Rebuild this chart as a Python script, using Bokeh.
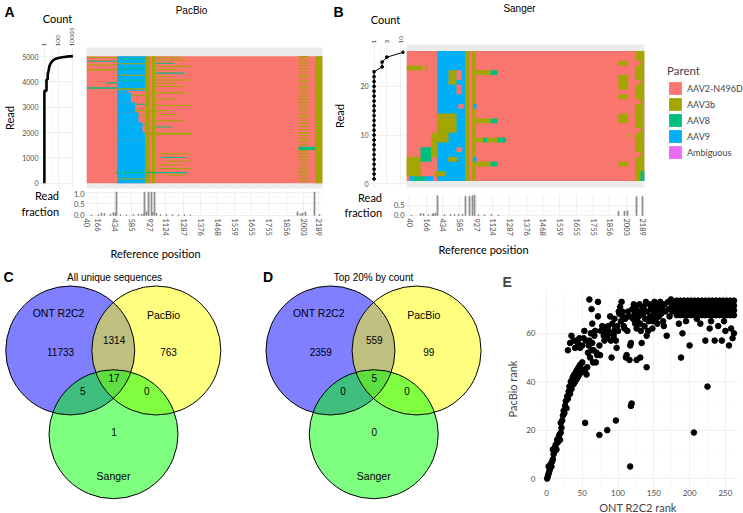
import math
from bokeh.plotting import figure
from bokeh.models import (Range1d, FixedTicker, ColumnDataSource, Legend, LegendItem,
                          NumeralTickFormatter, CategoricalColorMapper, Title)
from bokeh.layouts import row, column
from bokeh.embed import file_html
from bokeh.resources import INLINE
from bokeh.core.properties import value

# ---------------------------------------------------------------- data
parents = ["AAV2-N496D", "AAV3b", "AAV8", "AAV9", "Ambiguous"]
parent_colors = ["#F8766D", "#A3A500", "#00BF7D", "#00B0F6", "#E76BF3"]
parent_code = {"N": "AAV2-N496D", "3": "AAV3b", "8": "AAV8", "9": "AAV9", "A": "Ambiguous"}

ref_tick_labels = ["40", "166", "434", "585", "927", "1124", "1287", "1376",
                   "1468", "1559", "1655", "1755", "1856", "2003", "2189"]
a_tick_idx = [0, 11, 28, 45, 63, 79, 97, 114, 131, 148, 165, 182, 200, 217, 232]
b_tick_idx = [3, 20, 36, 53, 70, 86, 103, 120, 136, 153, 170, 187, 203, 220, 236]

# read counts (A: PacBio, B: Sanger)
a_count_read = [0, 3650, 3650, 4100, 4100, 4300, 4450, 4600, 4710, 4800, 4870, 4920, 4950, 4980, 5000, 5020]
a_count_n = [1, 1, 2, 2, 3, 3, 4, 5, 7, 11, 21, 45, 100, 350, 1400, 12000]
b_count_read = [1, 2, 3, 4, 5, 6, 7, 8, 9, 10, 11, 12, 13, 14, 15, 16, 17, 18, 19, 20,
                21, 22, 23, 24, 25, 26, 27]
b_count_n = [1, 1, 1, 1, 1, 1, 1, 1, 1, 1, 1, 1, 1, 1, 1, 1, 1, 1, 1, 1,
             1, 1, 1, 2, 2, 3, 12]

# heatmap segments (variable-site index from, to, read from, to, parent)
a_segments = [
    (0, 236, 0, 5020, "N"),
    (30.7, 59, 3650, 5020, "9"), (30.7, 41, 3583, 3650, "9"), (30.7, 44.5, 3194, 3583, "9"),
    (30.7, 48.5, 2804, 3194, "9"), (30.7, 52, 2415, 2804, "9"), (30.7, 56, 2025, 2415, "9"),
    (30.7, 58.5, 1700, 2025, "9"), (30.7, 59, 0, 1700, "9"),
    (59, 63.5, 0, 5020, "3"), (65.5, 68.5, 0, 5020, "3"), (229, 236, 0, 5020, "3"),
    (0, 30.7, 3730, 3790, "8"), (30.7, 59, 3690, 3750, "3"), (20, 30.7, 3940, 3990, "8"),
    (0, 30.7, 4950, 4990, "3"), (0, 30.7, 4800, 4840, "8"), (0, 30.7, 4650, 4690, "3"),
    (0, 30.7, 4450, 4500, "3"),
    (30.7, 59, 4900, 4940, "8"), (30.7, 59, 4700, 4740, "3"), (30.7, 59, 4500, 4540, "8"),
    (30.7, 59, 4250, 4290, "3"), (30.7, 59, 4050, 4090, "8"),
    (29, 101, 400, 450, "8"), (30.7, 59, 150, 190, "3"),
    (45, 59, 3450, 3490, "3"), (48, 59, 3100, 3140, "8"), (48, 80, 2845, 2897, "3"),
    (52, 59, 2650, 2690, "3"), (56, 59, 2300, 2340, "8"), (58, 104.7, 1920, 2000, "3"),
    (58, 59, 2150, 2190, "3"),
    (69, 95, 4960, 5000, "3"), (69, 100, 4850, 4890, "3"), (69, 88, 4720, 4760, "8"),
    (69, 104, 4600, 4640, "3"), (69, 92, 4470, 4510, "3"), (69, 98, 4330, 4370, "8"),
    (69, 85, 4200, 4240, "3"), (69, 104, 4060, 4100, "3"), (69, 90, 3930, 3970, "3"),
    (69, 96, 3800, 3840, "3"), (69, 100, 3560, 3600, "3"), (69, 88, 3300, 3340, "3"),
    (69, 104, 3050, 3090, "3"), (69, 92, 2700, 2740, "3"), (69, 98, 2450, 2490, "3"),
    (69, 85, 2200, 2240, "8"),
    (72, 104, 1150, 1190, "3"), (75, 100, 1000, 1040, "8"), (78, 104, 850, 890, "3"),
    (70, 95, 700, 740, "3"), (72, 104, 560, 600, "3"), (80, 98, 300, 340, "3"),
]
a_band_reads = [4980, 4860, 4740, 4620, 4500, 4380, 4260, 4140, 4020, 3900, 3780, 3660,
                3540, 3420, 3300, 3180, 3060, 2940, 2820, 2700, 2580, 2460, 2340, 2220,
                2100, 1980, 1860, 1740, 1620, 1500, 1260, 1140, 1020, 900, 780, 660,
                540, 420, 300, 180, 60]
a_late_segments = [(212, 229, 1310, 1440, "8")]

b_segments = [
    (0, 238, 1, 27, "N"),
    (30.7, 59, 1, 27, "9"),
    (59, 63, 1, 27, "3"), (65.7, 69, 1, 27, "3"), (229, 238, 1, 27, "3"),
    (229, 234, 25, 25, "N"), (229, 234, 21, 21, "N"), (229, 234, 17, 17, "N"),
    (229, 234, 11, 11, "N"), (229, 234, 6, 6, "N"),
    (0, 16, 24, 24, "3"), (19, 21, 24, 24, "3"),
    (25, 31, 8, 10, "3"), (14, 25, 6, 7, "8"), (25, 31, 6, 7, "3"),
    (0, 14, 2, 5, "3"), (14, 25, 5, 5, "8"), (28, 39, 2, 2, "3"),
    (3, 7, 1, 1, "9"), (7, 19, 1, 1, "8"), (19, 27, 1, 1, "9"),
    (42, 50, 21, 23, "3"), (50, 55, 22, 23, "N"),
    (30.7, 50, 11, 14, "3"), (30.7, 42, 9, 10, "3"),
    (41.7, 50.7, 5, 5, "3"), (50, 55.7, 7, 7, "N"), (52, 57, 16, 16, "N"), (50, 55, 19, 20, "N"),
    (67, 70, 16, 16, "9"), (67, 70, 5, 5, "9"),
    (69, 84, 23, 23, "3"), (84, 91, 23, 23, "8"),
    (69, 84, 13, 13, "3"), (84, 91, 13, 13, "8"),
    (69, 77, 9, 9, "3"), (77, 80.7, 9, 9, "8"), (80.7, 90.7, 9, 9, "3"), (90.7, 99.7, 9, 9, "8"),
    (69, 84, 4, 4, "3"), (84, 91, 4, 4, "8"),
    (212, 221.7, 25, 25, "3"), (212, 221.7, 20, 22, "3"), (212, 221.7, 18, 18, "3"),
    (212, 221.7, 13, 14, "3"), (212, 221.7, 4, 4, "3"), (221.7, 223, 10, 10, "3"),
    (234, 238, 1, 2, "8"), (236, 238, 1, 1, "9"),
    (237, 238, 9, 17, "A"),
]

# read fraction bars
a_frac_idx = [5, 12, 15, 18, 24, 27, 29, 30, 34, 40, 47, 52, 55, 57, 58, 60, 62, 65, 66, 68,
              70, 74, 80, 86, 92, 98, 104, 211, 214, 216, 219, 228, 233]
a_frac_val = [0.02, 0.03, 0.10, 0.08, 0.05, 0.12, 0.10, 1.00, 0.03, 0.02, 0.03, 0.05, 0.04,
              0.06, 1.00, 0.15, 1.00, 1.00, 0.12, 1.00, 0.08, 0.03, 0.04, 0.03, 0.02, 0.03,
              0.02, 0.15, 0.06, 0.10, 0.15, 1.00, 0.04]
b_frac_idx = [5, 14, 17, 22, 26, 27, 29, 31, 38, 44, 48, 52, 56, 59, 63, 66, 68, 72, 78, 85,
              92, 212, 218, 221, 230, 236]
b_frac_val = [0.02, 0.10, 0.08, 0.03, 0.05, 0.10, 0.10, 0.95, 0.03, 0.05, 0.04, 0.05, 0.06,
              0.92, 0.92, 0.94, 0.97, 0.04, 0.03, 0.05, 0.02, 0.20, 0.20, 0.22, 0.90, 0.90]

# Venn diagrams
venn_set_names = ["ONT R2C2", "PacBio", "Sanger"]
venn_all_counts = [11733, 1314, 763, 17, 5, 0, 1]
venn_top_counts = [2359, 559, 99, 5, 0, 0, 0]

# rank scatter (ONT R2C2 rank vs PacBio rank)
e_ont_rank = [
    1, 2, 3, 4, 3, 5, 6, 7, 8, 9, 10, 9, 11, 12, 13, 14, 15, 16, 17, 18,
    19, 20, 21, 20, 22, 23, 24, 25, 26, 27, 28, 29, 30, 31, 32, 33, 34, 35, 36, 37,
    38, 39, 40, 41, 42, 43, 44, 45, 46, 47, 48, 50, 52, 54, 56, 57, 40, 42, 44, 46,
    47, 50, 52, 53, 55, 30, 33, 35, 38,
    58, 59, 60, 61, 62, 63, 64, 64, 65, 66, 67, 68, 69, 70, 71, 72, 72, 60, 63, 74,
    75, 76, 78, 80, 81, 82, 83, 85, 86, 87, 88, 89, 90, 91, 92, 93, 94, 95, 96, 97,
    98, 99, 100, 101, 102, 103, 104, 105, 106, 107, 108, 109, 110, 111, 112, 113, 114, 115, 116, 117,
    118, 126, 131,
    54, 74, 85, 97, 117, 118, 119, 140, 188, 206, 225,
    120, 121, 122, 123, 124, 125, 126, 127, 128, 129, 130, 131, 132, 133, 134, 135, 136, 137, 138, 139,
    140, 141, 142, 143, 144, 145, 146, 147, 148, 149, 150, 151, 152, 153, 154, 155, 156, 157, 158, 159,
    160, 162, 163, 165, 166, 168, 170, 171, 172, 174, 175, 176, 178, 180, 164,
    182, 187, 192, 197, 202, 207, 212, 217, 222, 227, 232, 237, 242, 247, 252, 257, 262,
    182, 187, 192, 197, 202, 207, 212, 217, 222, 227, 232, 237, 242, 247, 252, 257, 262,
    182, 187, 192, 197, 202, 207, 212, 217, 222, 227, 232, 237, 242, 247, 252, 257, 262,
    182, 187, 192, 197, 202, 207, 212, 217, 222, 227, 232, 237, 242, 247, 252, 257, 262,
    195, 215, 228, 240, 250, 258, 262, 245, 235, 222, 255, 260, 200, 190, 210, 230, 248, 185,
]
e_pacbio_rank = [
    0, 1, 2, 3, 5, 4, 6, 5, 7, 8, 10, 12, 11, 13, 14, 12, 16, 15, 17, 18,
    16, 19, 21, 23, 24, 26, 28, 27, 30, 32, 29, 34, 33, 36, 38, 35, 40, 37, 41, 42,
    39, 43, 40, 44, 41, 45, 42, 46, 43, 47, 44, 48, 45, 44, 43, 46, 54, 57, 56, 58,
    54, 55, 58, 61, 57, 53, 56, 59, 57,
    52, 55, 57, 50, 60, 53, 56, 64, 48, 53, 59, 61, 48, 52, 51, 67, 73, 74, 70, 55,
    51, 61, 63, 59, 57, 60, 62, 58, 63, 61, 60, 67, 57, 50, 64, 60, 59, 66, 62, 57,
    54, 63, 61, 69, 68, 71, 65, 73, 69, 67, 63, 62, 66, 50, 51, 61, 69, 67, 49, 55,
    56, 49, 50,
    23, 18, 20, 24, 5, 30, 31, 46, 50, 19, 38,
    70, 66, 72, 68, 64, 71, 62, 65, 69, 67, 72, 64, 61, 56, 70, 68, 71, 63, 66, 73,
    59, 69, 61, 65, 72, 67, 70, 71, 62, 65, 68, 73, 69, 66, 71, 64, 72, 67, 70, 73,
    68, 71, 65, 72, 69, 59, 73, 70, 67, 74, 71, 69, 72, 70, 63,
    67.5, 67.5, 67.5, 67.5, 67.5, 67.5, 67.5, 67.5, 67.5, 67.5, 67.5, 67.5, 67.5, 67.5, 67.5, 67.5, 67.5,
    69.5, 69.5, 69.5, 69.5, 69.5, 69.5, 69.5, 69.5, 69.5, 69.5, 69.5, 69.5, 69.5, 69.5, 69.5, 69.5, 69.5,
    71.5, 71.5, 71.5, 71.5, 71.5, 71.5, 71.5, 71.5, 71.5, 71.5, 71.5, 71.5, 71.5, 71.5, 71.5, 71.5, 71.5,
    73.5, 73.5, 73.5, 73.5, 73.5, 73.5, 73.5, 73.5, 73.5, 73.5, 73.5, 73.5, 73.5, 73.5, 73.5, 73.5, 73.5,
    65, 64, 62, 63, 61, 62, 60, 57, 57, 57, 55, 58, 55, 60, 66, 65, 65, 64,
]

# ---------------------------------------------------------------- styling helpers
GG = "Lato"
ARIAL = "Liberation Sans"
GRID = "#EBEBEB"
MINOR = "#F4F4F4"
TICKC = "#4D4D4D"


def make_fig(w, h, xr, yr, bl, br, bt, bb, **kw):
    p = figure(width=w, height=h, x_range=xr, y_range=yr, output_backend="svg",
               toolbar_location=None, min_border_left=bl, min_border_right=br,
               min_border_top=bt, min_border_bottom=bb, **kw)
    p.outline_line_color = None
    p.background_fill_color = "white"
    p.border_fill_color = "white"
    return p


def style_axes(p, size="7px"):
    for ax in p.axis:
        ax.axis_line_color = None
        ax.major_tick_line_color = None
        ax.minor_tick_line_color = None
        ax.major_tick_out = 0
        ax.major_tick_in = 0
        ax.minor_tick_out = 0
        ax.minor_tick_in = 0
        ax.major_label_text_font = GG
        ax.major_label_text_font_size = size
        ax.major_label_text_color = TICKC
        ax.major_label_standoff = 2
        ax.axis_label_text_font = GG
        ax.axis_label_text_font_size = "11px"
        ax.axis_label_text_font_style = "normal"
        ax.axis_label_text_color = "black"
    for g in p.grid:
        g.grid_line_color = GRID
        g.grid_line_width = 0.8
        g.minor_grid_line_color = MINOR
        g.minor_grid_line_width = 0.5


def set_ticks(p, xt=None, yt=None):
    if xt is not None:
        p.xaxis.ticker = xt
        p.xgrid.ticker = xt
    if yt is not None:
        p.yaxis.ticker = yt
        p.ygrid.ticker = yt


def text_fig(w, h):
    p = make_fig(w, h, Range1d(0, w), Range1d(h, 0), 0, 0, 0, 0,
                 x_axis_location=None, y_axis_location=None)
    p.grid.visible = False
    return p


def put_text(p, x, y, txt, size="11px", font=GG, align="center", bold=False):
    p.text(x=[x], y=[y], text=[txt], text_align=align, text_baseline="middle",
           text_font=value(font), text_font_size=size,
           text_font_style="bold" if bold else "normal", text_color="black")


def seg_source(segs, tile_rows=False):
    x0, x1, y0, y1, par = [], [], [], [], []
    for s in segs:
        x0.append(s[0]); x1.append(s[1])
        if tile_rows:
            y0.append(s[2] - 0.5); y1.append(s[3] + 0.5)
        else:
            y0.append(s[2]); y1.append(s[3])
        par.append(parent_code[s[4]])
    return ColumnDataSource(dict(x0=x0, x1=x1, y0=y0, y1=y1, parent=par))


cmap = CategoricalColorMapper(factors=parents, palette=parent_colors)

# ---------------------------------------------------------------- header (panel letters, titles)
header = text_fig(743, 24)
put_text(header, 4, 11.5, "A", size="14px", font=ARIAL, align="left", bold=True)
put_text(header, 57, 18, "Count")
put_text(header, 191, 10, "PacBio", size="10px", font=ARIAL)
put_text(header, 333, 11, "B", size="14px", font=ARIAL, align="left", bold=True)
put_text(header, 385, 18.5, "Count")
put_text(header, 519, 8, "Sanger", size="10px", font=ARIAL)

# ---------------------------------------------------------------- panel A
pa_c = make_fig(84, 166, Range1d(0.278, 20200), Range1d(-206, 5362), 39, 10, 21, 2,
                x_axis_type="log", x_axis_location="above")
set_ticks(pa_c, FixedTicker(ticks=[1, 100, 10000], minor_ticks=[10, 1000]),
          FixedTicker(ticks=[0, 1000, 2000, 3000, 4000, 5000], minor_ticks=[500, 1500, 2500, 3500, 4500]))
pa_c.xaxis.formatter = NumeralTickFormatter(format="0")
pa_c.xaxis.major_label_orientation = "vertical"
style_axes(pa_c)
pa_c.xaxis.major_label_text_font_size = "6.5px"
pa_c.xaxis.major_label_standoff = 1
pa_c.yaxis.axis_label = "Read"
pa_c.yaxis.axis_label_standoff = 3
pa_c.line(a_count_n, a_count_read, line_width=2.6, color="black")

pa_h = make_fig(246, 166, Range1d(0, 236), Range1d(-206, 5362), 2, 8, 21, 2,
                x_axis_location=None, y_axis_location=None)
pa_h.background_fill_color = GRID
pa_h.grid.visible = False
a_all = a_segments + [(212, 222, r, r + 45, "3") for r in a_band_reads] + a_late_segments
pa_h.quad(left="x0", right="x1", bottom="y0", top="y1", source=seg_source(a_all),
          fill_color={"field": "parent", "transform": cmap}, line_color=None)

pa_f = make_fig(330, 48, Range1d(0, 236), Range1d(-0.05, 1.07), 86, 8, 0, 20)
set_ticks(pa_f, FixedTicker(ticks=a_tick_idx),
          FixedTicker(ticks=[0, 0.5, 1.0], minor_ticks=[0.25, 0.75]))
pa_f.xaxis.major_label_overrides = dict(zip(a_tick_idx, ref_tick_labels))
pa_f.xaxis.major_label_orientation = "vertical"
pa_f.yaxis.formatter = NumeralTickFormatter(format="0.0")
style_axes(pa_f, size="7.5px")
pa_f.yaxis.axis_label = "Read\nfraction"
pa_f.yaxis.axis_label_orientation = "horizontal"
pa_f.yaxis.axis_label_standoff = 12
pa_f.yaxis.axis_label_text_align = "center"
pa_f.vbar(x=a_frac_idx, top=a_frac_val, bottom=0, width=0.8, color="#8C8C8C")

# ---------------------------------------------------------------- panel B
pb_c = make_fig(76, 166, Range1d(0.736, 13.6), Range1d(-0.76, 28.6), 36, 2, 20, 3,
                x_axis_type="log", x_axis_location="above")
set_ticks(pb_c, FixedTicker(ticks=[1, 3, 10], minor_ticks=[1.73, 5.48]),
          FixedTicker(ticks=[0, 10, 20], minor_ticks=[5, 15, 25]))
pb_c.xaxis.formatter = NumeralTickFormatter(format="0")
pb_c.xaxis.major_label_orientation = "vertical"
style_axes(pb_c)
pb_c.xaxis.major_label_text_font_size = "6.5px"
pb_c.xaxis.major_label_standoff = 1
pb_c.yaxis.axis_label = "Read"
pb_c.yaxis.axis_label_standoff = 11
pb_c.line(b_count_n, b_count_read, line_width=1, color="black")
pb_c.scatter(b_count_n, b_count_read, size=2.8, color="black")

pb_h = make_fig(246, 166, Range1d(0, 238), Range1d(-0.85, 28.85), 0, 8, 20, 3,
                x_axis_location=None, y_axis_location=None)
pb_h.background_fill_color = GRID
pb_h.grid.visible = False
pb_h.quad(left="x0", right="x1", bottom="y0", top="y1", source=seg_source(b_segments, tile_rows=True),
          fill_color={"field": "parent", "transform": cmap}, line_color=None)

# legend panel for the parent colours (each key drawn from a zero-size tile of that colour)
pleg = make_fig(91, 166, Range1d(0, 1), Range1d(0, 1), 0, 0, 20, 3,
                x_axis_location=None, y_axis_location=None)
pleg.grid.visible = False
leg_items = []
for name, col in zip(parents, parent_colors):
    r = pleg.quad(left=[0], right=[0], bottom=[0], top=[0], fill_color=col, line_color=None)
    leg_items.append(LegendItem(label=name, renderers=[r]))
legend = Legend(items=leg_items, location=(15, 27), title="Parent", title_text_font=GG,
                title_text_font_size="11.5px", title_text_font_style="normal", title_standoff=3,
                label_text_font=GG, label_text_font_size="9px",
                glyph_width=16, glyph_height=16, label_height=16, spacing=0, padding=0, margin=0,
                label_standoff=4, border_line_color=None, background_fill_alpha=0)
pleg.add_layout(legend)

pb_f = make_fig(322, 48, Range1d(0, 238), Range1d(-0.05, 1.05), 76, 8, 3, 20)
set_ticks(pb_f, FixedTicker(ticks=b_tick_idx),
          FixedTicker(ticks=[0, 0.5], minor_ticks=[0.25, 0.75]))
pb_f.xaxis.major_label_overrides = dict(zip(b_tick_idx, ref_tick_labels))
pb_f.xaxis.major_label_orientation = "vertical"
pb_f.yaxis.formatter = NumeralTickFormatter(format="0.0")
style_axes(pb_f, size="7.5px")
pb_f.yaxis.axis_label = "Read\nfraction"
pb_f.yaxis.axis_label_orientation = "horizontal"
pb_f.yaxis.axis_label_standoff = 9
pb_f.yaxis.axis_label_text_align = "center"
pb_f.vbar(x=b_frac_idx, top=b_frac_val, bottom=0, width=0.8, color="#8C8C8C")

# ---------------------------------------------------------------- footer (x axis titles)
footer = text_fig(743, 30)
put_text(footer, 155, 15, "Reference position")
put_text(footer, 483, 11, "Reference position")

# ---------------------------------------------------------------- panels C, D (Venn)
circ_x = [0.0, 1.335, 0.671]
circ_y = [0.0, 0.0, -1.298]
circ_fill = ["#0000FF", "#FFFF00", "#00FF00"]
name_x = [-0.18, 1.447, 0.671]
name_y = [0.574, 0.543, -1.938]
region_x = [-0.15, 0.68, 1.524, 0.68, 0.195, 1.185, 0.68]
region_y = [-0.016, 0.155, -0.016, -0.434, -0.63, -0.63, -1.27]


def venn(w, xr, title, title_x, letter_x, letter, counts):
    p = make_fig(w, 245, xr, Range1d(-2.527, 1.271), 0, 0, 0, 0,
                 x_axis_location=None, y_axis_location=None)
    p.grid.visible = False
    p.circle(x=circ_x, y=circ_y, radius=1.0, fill_color=circ_fill, fill_alpha=0.5, line_color=None)
    p.circle(x=circ_x, y=circ_y, radius=1.0, fill_color=None, line_color="black", line_width=1)
    p.text(x=name_x, y=name_y, text=venn_set_names, text_align="center", text_baseline="middle",
           text_font=value(ARIAL), text_font_size="10.5px", text_color="black")
    p.text(x=region_x, y=region_y, text=[str(c) for c in counts], text_align="center",
           text_baseline="middle", text_font=value(ARIAL), text_font_size="10px", text_color="black")
    p.text(x=[title_x], y=[1.132], text=[title], text_align="center", text_baseline="middle",
           text_font=value(ARIAL), text_font_size="10px", text_color="black")
    p.text(x=[letter_x], y=[1.132], text=[letter], text_align="left", text_baseline="middle",
           text_font=value(ARIAL), text_font_size="14px", text_font_style="bold", text_color="black")
    return p


pc = venn(262, Range1d(-1.081, 2.981), "All unique sequences", 0.687, -1.034, "C", venn_all_counts)
pd = venn(236, Range1d(-1.054, 2.605), "Top 20% by count", 0.667, -1.045, "D", venn_top_counts)

# ---------------------------------------------------------------- panel E
pe = make_fig(245, 245, Range1d(-12.5, 268.3), Range1d(-3.7, 77.7), 39, 5, 22, 25)
set_ticks(pe, FixedTicker(ticks=[0, 50, 100, 150, 200, 250], minor_ticks=[25, 75, 125, 175, 225]),
          FixedTicker(ticks=[0, 20, 40, 60], minor_ticks=[10, 30, 50, 70]))
style_axes(pe, size="8px")
pe.scatter(e_ont_rank, e_pacbio_rank, size=5.6, color="black")
pe.add_layout(Title(text="E", align="left", offset=-35, standoff=1, text_font=ARIAL,
                    text_font_size="14px", text_font_style="bold"), "above")
pe.add_layout(Title(text="ONT R2C2 rank", align="center", offset=-11, standoff=0, text_font=GG,
                    text_font_size="11px", text_font_style="normal"), "below")
pe.add_layout(Title(text="PacBio rank", align="center", offset=-18, standoff=9, text_font=GG,
                    text_font_size="11px", text_font_style="normal"), "left")

# ---------------------------------------------------------------- layout
block_a = column(row(pa_c, pa_h), pa_f)
block_b = column(row(pb_c, pb_h, pleg), pb_f)
top = column(header, row(block_a, block_b), footer)
bottom = row(column(pc), column(pd), column(pe))
layout = column(top, bottom)

open("out.html", "w").write(file_html(layout, INLINE))
